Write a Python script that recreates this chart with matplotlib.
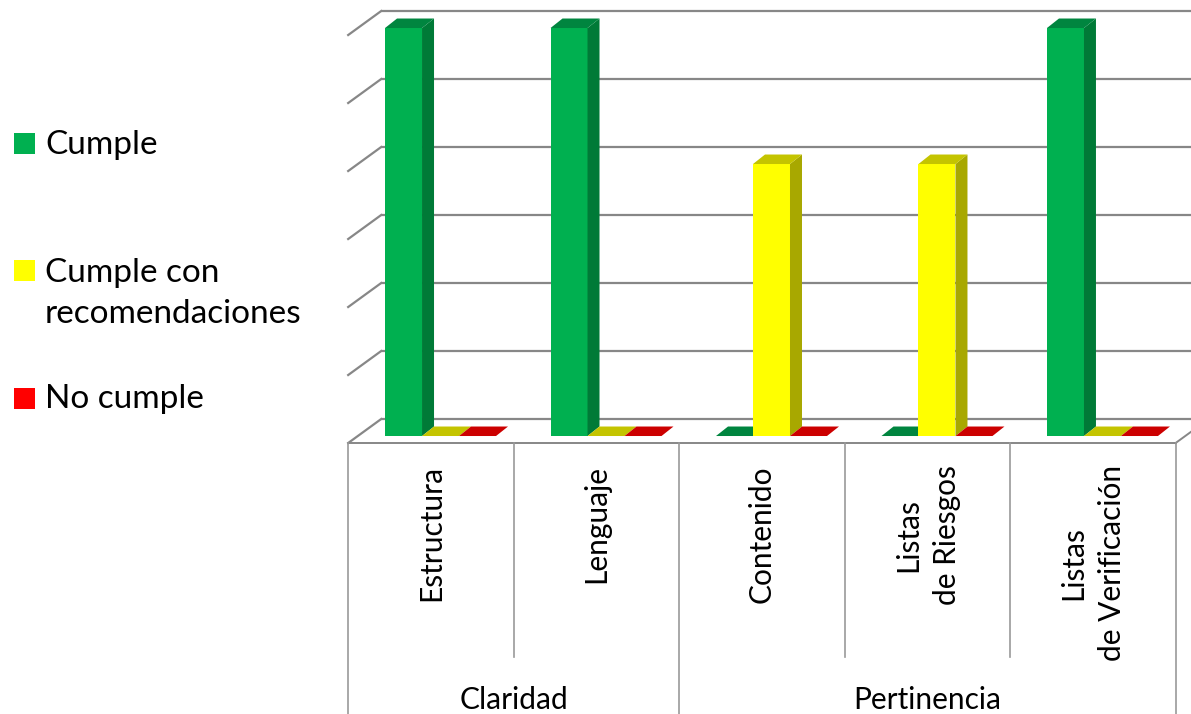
import matplotlib

matplotlib.use("Agg")
import matplotlib.pyplot as plt
from matplotlib.patches import Polygon, Rectangle

# data
categories = ["Estructura", "Lenguaje", "Contenido", "Listas\nde Riesgos",
              "Listas\nde Verificación"]
groups = ["Claridad", "Pertinencia"]
group_bounds = [(-0.5, 1.5), (1.5, 4.5)]
series = ["Cumple", "Cumple con\nrecomendaciones", "No cumple"]
cumple = [6, 6, 0, 0, 6]
cumple_rec = [0, 0, 4, 4, 0]
no_cumple = [0, 0, 0, 0, 0]
levels = [0, 1, 2, 3, 4, 5, 6]

# (front, side, top) shades per series, legend colour
shades = [("#00B050", "#007A37", "#00853F"),
          ("#FFFF00", "#A8A800", "#C4C400"),
          ("#FF0000", "#B00000", "#CC0000")]
legend_colors = ["#00B050", "#FFFF00", "#FF0000"]

plt.rcParams["font.family"] = ["Lato", "DejaVu Sans"]
FS = 21.5
FS_LEG = 24
GRID = "#878787"

fig = plt.figure(figsize=(11.91, 7.14), dpi=100)
ax = fig.add_axes([0, 0, 1, 1])
ax.set_xlim(-2.662, 4.535)
ax.set_ylim(-4.088, 6.412)
ax.axis("off")

PX, PY = 165.5, 68.0          # pixels per data unit
wall = (23.4 / PX, 17 / PY)    # bar front plane -> back wall
floor = (-9.6 / PX, -7 / PY)   # bar front plane -> floor front edge
depth = (12 / PX, 9.5 / PY)    # bar thickness
width = 37 / PX
x_left, x_right = -0.5, 4.5

# back wall gridlines and side wall
for v in levels:
    ax.plot([x_left + wall[0], 5.0], [v + wall[1]] * 2, color=GRID, lw=1.6,
            solid_capstyle="butt", zorder=1)
    ax.plot([x_left + wall[0], x_left + floor[0]], [v + wall[1], v + floor[1]],
            color=GRID, lw=1.6, zorder=1)

# floor front edge and right edge
ax.plot([x_left + floor[0], x_right + floor[0]], [floor[1]] * 2, color=GRID, lw=1.4, zorder=1)
ax.plot([x_right + floor[0], x_right + wall[0]], [floor[1], wall[1]], color=GRID, lw=1.4, zorder=1)

# bars, left to right
for i in range(len(categories)):
    for k, vals in enumerate([cumple, cumple_rec, no_cumple]):
        h = vals[i]
        x0 = i + (k - 1.5) * width
        front, side, top = shades[k]
        z = 3 + i * 3 + k
        if h > 0:
            ax.bar(x0, h, width=width, align="edge", color=front, lw=0, zorder=z)
            ax.add_patch(Polygon([(x0 + width, 0), (x0 + width + depth[0], depth[1]),
                                  (x0 + width + depth[0], h + depth[1]), (x0 + width, h)],
                                 closed=True, fc=side, lw=0, zorder=z))
        ax.add_patch(Polygon([(x0, h), (x0 + width, h), (x0 + width + depth[0], h + depth[1]),
                              (x0 + depth[0], h + depth[1])],
                             closed=True, fc=top, lw=0, zorder=z))

# category table below the floor
y_top = floor[1]
y_inner = (436 - 657) / PY
y_bottom = -4.3
for b in [-0.5, 0.5, 1.5, 2.5, 3.5, 4.5]:
    outer = b in (-0.5, 1.5, 4.5)
    ax.plot([b + floor[0]] * 2, [y_top, y_bottom if outer else y_inner],
            color="#999999", lw=1.2, zorder=1)

for i, name in enumerate(categories):
    ax.text(i + floor[0], (436 - 465) / PY, name, rotation=90, ha="center", va="top",
            multialignment="center", fontsize=FS, linespacing=1.45, zorder=20)

for name, (a, b) in zip(groups, group_bounds):
    ax.text((a + b) / 2 + floor[0], (436 - 700) / PY, name, ha="center", va="center",
            fontsize=FS, zorder=20)

# legend on the left; square sits beside the first text line
W, H = 1191.0, 714.0
LINE = 42
for j, (name, col) in enumerate(zip(series, legend_colors)):
    yc = 143 + j * 127.5
    fig.add_artist(Rectangle((14 / W, 1 - (yc + 10.5) / H), 21 / W, 21 / H,
                             transform=fig.transFigure, fc=col, lw=0))
    extra = name.count("\n") * LINE
    fig.text(45 / W, 1 - (yc + 10.5 + extra) / H, name, ha="left", va="baseline",
             fontsize=FS_LEG, linespacing=1.45)

fig.savefig("out.png", dpi=100)
